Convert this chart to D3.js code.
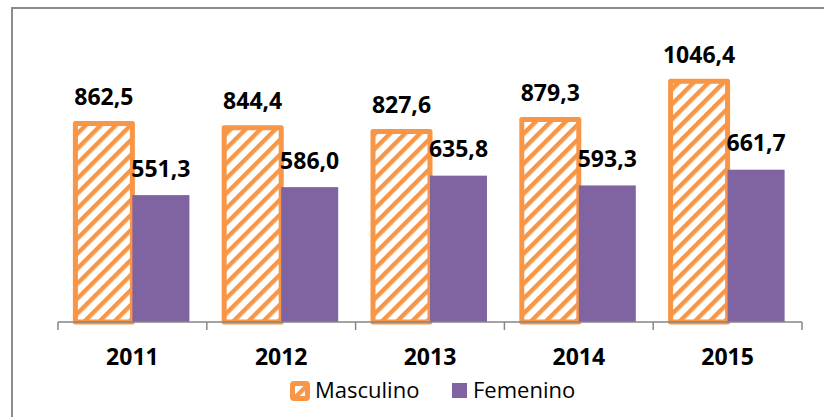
<!DOCTYPE html>
<html>
<head>
<meta charset="utf-8">
<title>Masculino / Femenino 2011-2015</title>
<script src="https://cdn.jsdelivr.net/npm/d3@7"></script>
<style>
  body { margin: 0; background: #fff; }
  svg { display: block; font-family: "Open Sans", sans-serif; }
</style>
</head>
<body>
<div id="container"></div>
<script>
  // Data.
  const years = ["2011", "2012", "2013", "2014", "2015"];
  const masculino = [862.5, 844.4, 827.6, 879.3, 1046.4];
  const femenino = [551.3, 586.0, 635.8, 593.3, 661.7];
  const seriesNames = ["Masculino", "Femenino"];

  const orange = "#F79646";
  const purple = "#8064A2";

  // Chart dimensions.
  const width = 824;
  const height = 417;
  const axisY = 322;
  const plotLeft = 58;
  const plotRight = 802;

  const rows = years.map((y, i) => ({ year: y, values: [masculino[i], femenino[i]] }));

  const locale = d3.formatLocale({ decimal: ",", thousands: ".", grouping: [3], currency: ["", ""] });
  const fmt = locale.format(".1f");

  // Scales.
  const x = d3.scaleBand()
      .domain(years)
      .range([plotLeft, plotRight]);

  const bw = x.bandwidth();
  const x1 = d3.scaleBand()
      .domain(seriesNames)
      .range([(bw - 114) / 2, (bw + 114) / 2]);

  const y = d3.scaleLinear()
      .domain([0, 1200])
      .range([axisY, 45.8]);

  const svg = d3.create("svg")
      .attr("width", width)
      .attr("height", height);

  // Hatch pattern for Masculino.
  const defs = svg.append("defs");
  const pat = defs.append("pattern")
      .attr("id", "hatch")
      .attr("patternUnits", "userSpaceOnUse")
      .attr("width", 10.6)
      .attr("height", 10.6)
      .attr("patternTransform", "rotate(45)");
  pat.append("rect").attr("width", 10.6).attr("height", 10.6).attr("fill", "#fff");
  pat.append("rect").attr("width", 4.4).attr("height", 10.6).attr("fill", orange);

  // Outer frame.
  svg.append("rect")
      .attr("x", 12)
      .attr("y", 8)
      .attr("width", 900)
      .attr("height", 500)
      .attr("fill", "none")
      .attr("stroke", "#8c8c8c")
      .attr("stroke-width", 2);

  // Bars.
  const groups = svg.append("g")
    .selectAll("g")
    .data(rows)
    .join("g")
      .attr("transform", d => `translate(${x(d.year)},0)`);

  groups.selectAll("rect")
    .data(d => d.values.map((v, i) => ({ key: seriesNames[i], value: v })))
    .join("rect")
      .attr("x", d => x1(d.key))
      .attr("y", d => y(d.value))
      .attr("width", x1.bandwidth())
      .attr("height", d => axisY - y(d.value))
      .attr("fill", d => d.key === "Masculino" ? "url(#hatch)" : purple)
      .attr("stroke", d => d.key === "Masculino" ? orange : "none")
      .attr("stroke-width", 5)
      .attr("stroke-linejoin", "round");

  // Value labels.
  groups.selectAll("text")
    .data(d => d.values.map((v, i) => ({ key: seriesNames[i], value: v })))
    .join("text")
      .attr("x", d => x1(d.key) + x1.bandwidth() / 2)
      .attr("y", d => y(d.value) - 18.5)
      .attr("text-anchor", "middle")
      .attr("font-size", 23)
      .attr("font-weight", "bold")
      .attr("fill", "#000")
      .text(d => fmt(d.value));

  // X axis.
  const axis = svg.append("g").attr("transform", `translate(0,${axisY})`);
  axis.append("line")
      .attr("x1", plotLeft).attr("x2", plotRight)
      .attr("stroke", "#868686").attr("stroke-width", 1.5);
  axis.selectAll(".tick")
    .data(years.map(d => x(d)).concat([plotRight]))
    .join("line")
      .attr("class", "tick")
      .attr("x1", d => d).attr("x2", d => d)
      .attr("y1", 0).attr("y2", 8)
      .attr("stroke", "#868686").attr("stroke-width", 1.5);
  axis.selectAll("text")
    .data(years)
    .join("text")
      .attr("x", d => x(d) + bw / 2)
      .attr("y", 43)
      .attr("text-anchor", "middle")
      .attr("font-size", 23)
      .attr("font-weight", "bold")
      .text(d => d);

  // Legend.
  const legend = svg.append("g");
  legend.append("rect")
      .attr("x", 292.5).attr("y", 383.5)
      .attr("width", 15).attr("height", 15)
      .attr("rx", 1.5)
      .attr("fill", "url(#hatch)")
      .attr("stroke", orange)
      .attr("stroke-width", 5);
  legend.append("text")
      .attr("x", 315).attr("y", 398)
      .attr("font-size", 22)
      .text(seriesNames[0]);
  legend.append("rect")
      .attr("x", 452).attr("y", 383)
      .attr("width", 15).attr("height", 15)
      .attr("fill", purple);
  legend.append("text")
      .attr("x", 473).attr("y", 398)
      .attr("font-size", 22)
      .text(seriesNames[1]);

  document.getElementById("container").append(svg.node());
</script>
</body>
</html>
